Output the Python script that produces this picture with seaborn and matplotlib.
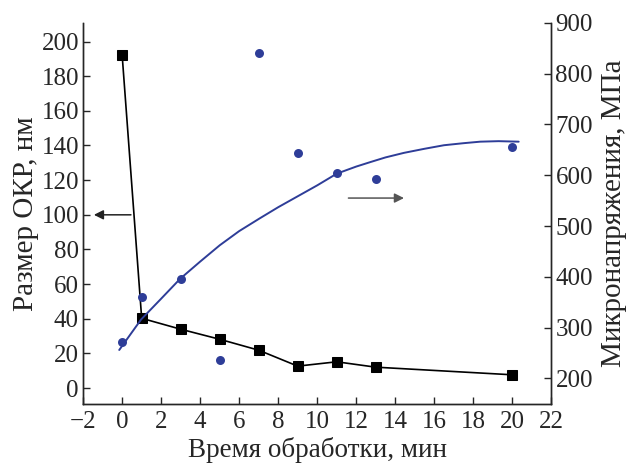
import numpy as np
import pandas as pd
import matplotlib
matplotlib.use("Agg")
import matplotlib.pyplot as plt
import seaborn as sns

# Data
time_min = [0, 1, 3, 5, 7, 9, 11, 13, 20]
okr_size_nm = [192, 40.3, 34, 28.2, 21.9, 12.7, 15.2, 12.1, 7.7]
microstress_mpa = [272, 360, 396, 236, 840, 643, 605, 593, 656]

# Trend line for microstress
trend_x = [-0.15, 0.97, 2.0, 2.97, 4.0, 5.0, 6.0, 7.05, 8.0, 8.93, 10.0, 11.0,
           12.0, 12.74, 13.5, 14.45, 15.5, 16.5, 17.5, 18.36, 19.3, 20.33]
trend_y = [256, 316, 357, 396, 430, 462, 490, 515, 537, 557, 580, 603,
           617, 626, 635, 644, 652, 659, 663, 666, 667, 666]

x_ticks = list(range(-2, 23, 2))
left_ticks = list(range(0, 201, 20))
right_ticks = list(range(200, 901, 100))

sns.set_style("ticks")
plt.rcParams['font.family'] = ['Liberation Serif', 'DejaVu Serif']
plt.rcParams['axes.unicode_minus'] = True

blue = "#2e3d98"

fig = plt.figure(figsize=(6.3, 4.65), dpi=100)
ax = fig.add_axes([0.132, 0.131, 0.743, 0.82])
ax2 = ax.twinx()

df_okr = pd.DataFrame({"t": time_min, "okr": okr_size_nm})
df_ms = pd.DataFrame({"t": time_min, "ms": microstress_mpa})
df_tr = pd.DataFrame({"t": trend_x, "ms": trend_y})

sns.lineplot(data=df_okr, x="t", y="okr", ax=ax, color="black", lw=1.2,
             marker="s", markersize=6.5, markeredgecolor="black", sort=False)

sns.lineplot(data=df_tr, x="t", y="ms", ax=ax2, color=blue, lw=1.4, sort=False)
sns.scatterplot(data=df_ms, x="t", y="ms", ax=ax2, color=blue, s=42,
                edgecolor=blue, linewidth=0, zorder=3)

ax.set_xlim(-2, 22)
ax.set_ylim(-9.2, 210.8)
ax2.set_ylim(149.5, 900)
ax.set_xticks(x_ticks)
ax.set_yticks(left_ticks)
ax2.set_yticks(right_ticks)

ax.set_xlabel("Время обработки, мин", fontsize=19.5, labelpad=3)
ax.set_ylabel("Размер ОКР, нм", fontsize=21, labelpad=2)
ax2.set_ylabel("Микронапряжения, МПа", fontsize=21, labelpad=6)

for a in (ax, ax2):
    a.tick_params(direction="in", length=5, width=1, labelsize=18, pad=3)
    a.spines["top"].set_visible(False)
    for s in a.spines.values():
        s.set_linewidth(1)
ax.tick_params(axis="x", pad=5)

# Arrows pointing to the respective axes
ax.annotate("", xy=(-1.45, 100), xytext=(0.45, 100),
            arrowprops=dict(arrowstyle="-|>", color="#222222", lw=1.1,
                            mutation_scale=14, shrinkA=0, shrinkB=0))
ax2.annotate("", xy=(14.45, 555), xytext=(11.6, 555),
             arrowprops=dict(arrowstyle="-|>", color="#555555", lw=1.1,
                             mutation_scale=14, shrinkA=0, shrinkB=0))

fig.savefig("out.png", dpi=100)
